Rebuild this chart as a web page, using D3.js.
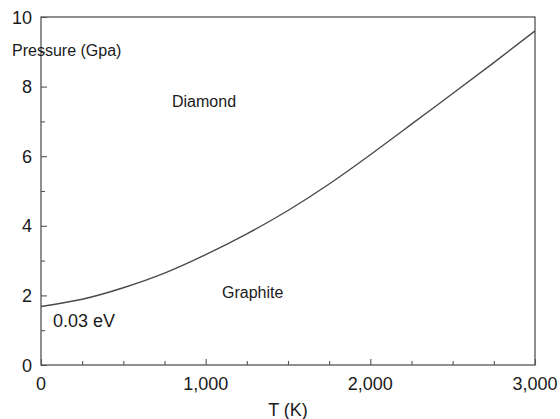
<!DOCTYPE html>
<html>
<head>
<meta charset="utf-8">
<script src="https://cdn.jsdelivr.net/npm/d3@7"></script>
<style>
  html, body { margin: 0; padding: 0; background: #fff; }
  svg { display: block; font-family: "Liberation Sans", Arial, sans-serif; }
</style>
</head>
<body>
<svg id="chart" width="560" height="419"></svg>
<script>
// Graphite / diamond coexistence line, pressure vs temperature
const temperatures = [0, 250, 500, 750, 1000, 1250, 1500, 1750, 2000, 2250, 2500, 2750, 3000];
const pressures    = [1.68, 1.89, 2.22, 2.64, 3.17, 3.77, 4.44, 5.20, 6.04, 6.92, 7.80, 8.69, 9.60];

const xMajorTicks = [0, 1000, 2000, 3000];
const xMinorTicks = [250, 500, 750, 1250, 1500, 1750, 2250, 2500, 2750];
const yMajorTicks = [0, 2, 4, 6, 8, 10];
const yMinorTicks = [1, 3, 5, 7, 9];

const svg = d3.select("#chart");
const plot = { left: 41, right: 535, top: 17, bottom: 365 };

const x = d3.scaleLinear().domain([0, 3000]).range([plot.left, plot.right]);
const y = d3.scaleLinear().domain([0, 10]).range([plot.bottom, plot.top]);

const axisColor = "#555";
const textColor = "#1a1a1a";

// frame
svg.append("rect")
  .attr("x", plot.left).attr("y", plot.top)
  .attr("width", plot.right - plot.left).attr("height", plot.bottom - plot.top)
  .attr("fill", "none").attr("stroke", axisColor).attr("stroke-width", 1.3);

// bottom axis: inward ticks
const xAxis = svg.append("g").attr("transform", `translate(0,${plot.bottom})`)
  .call(d3.axisTop(x).tickValues(xMajorTicks).tickSize(6).tickFormat(""));
const xAxisMinor = svg.append("g").attr("transform", `translate(0,${plot.bottom})`)
  .call(d3.axisTop(x).tickValues(xMinorTicks).tickSize(4).tickFormat(""));

// left axis: inward ticks
const yAxis = svg.append("g").attr("transform", `translate(${plot.left},0)`)
  .call(d3.axisRight(y).tickValues(yMajorTicks).tickSize(6).tickFormat(""));
const yAxisMinor = svg.append("g").attr("transform", `translate(${plot.left},0)`)
  .call(d3.axisRight(y).tickValues(yMinorTicks).tickSize(4).tickFormat(""));

[xAxis, xAxisMinor, yAxis, yAxisMinor].forEach(g => {
  g.select(".domain").remove();
  g.selectAll(".tick line").attr("stroke", axisColor).attr("stroke-width", 1.1);
});

// tick labels
const fmt = d3.format(",");
svg.append("g").selectAll("text")
  .data(xMajorTicks).join("text")
  .attr("x", d => x(d)).attr("y", plot.bottom + 25)
  .attr("text-anchor", "middle")
  .attr("font-size", 18).attr("fill", textColor)
  .text(d => fmt(d));

svg.append("g").selectAll("text")
  .data(yMajorTicks).join("text")
  .attr("x", 32).attr("y", d => y(d) + 6.5)
  .attr("text-anchor", "end")
  .attr("font-size", 18).attr("fill", textColor)
  .text(d => d);

// phase boundary
const line = d3.line()
  .x((d, i) => x(temperatures[i]))
  .y(d => y(d))
  .curve(d3.curveNatural);

svg.append("path")
  .datum(pressures)
  .attr("d", line)
  .attr("fill", "none")
  .attr("stroke", "#4a4a4a")
  .attr("stroke-width", 1.4);

// labels
svg.append("text").attr("x", 12).attr("y", 56)
  .attr("font-size", 16).attr("fill", textColor).text("Pressure (Gpa)");
svg.append("text").attr("x", 172).attr("y", 107)
  .attr("font-size", 16).attr("fill", textColor).text("Diamond");
svg.append("text").attr("x", 222).attr("y", 298)
  .attr("font-size", 16).attr("fill", textColor).text("Graphite");
svg.append("text").attr("x", 53).attr("y", 327)
  .attr("font-size", 18).attr("fill", textColor).text("0.03 eV");
svg.append("text").attr("x", 288).attr("y", 416)
  .attr("text-anchor", "middle")
  .attr("font-size", 18).attr("fill", textColor).text("T (K)");
</script>
</body>
</html>
